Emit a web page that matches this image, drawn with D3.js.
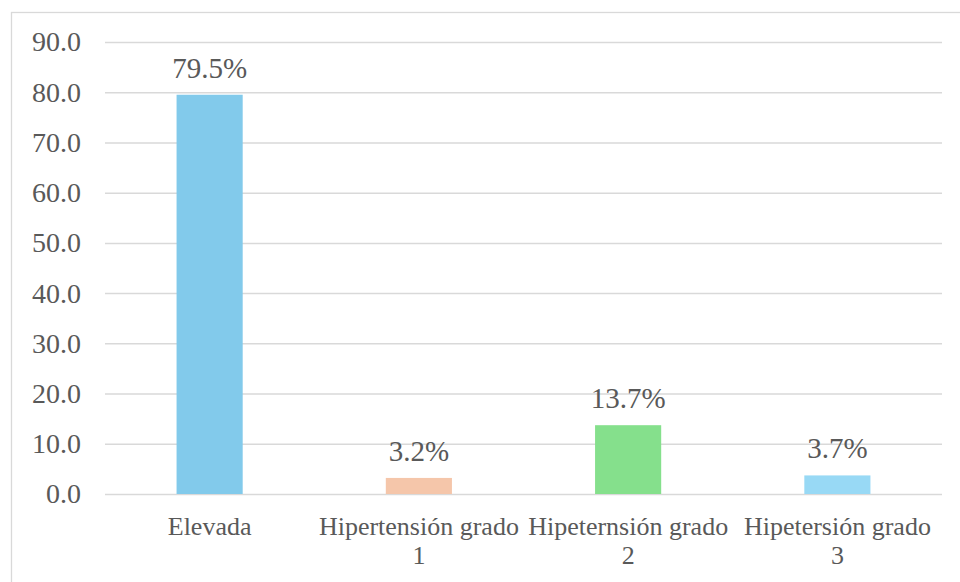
<!DOCTYPE html>
<html><head><meta charset="utf-8">
<script src="https://cdn.jsdelivr.net/npm/d3@7"></script>
<style>html,body{margin:0;padding:0;background:#fff;} svg text{font-family:"Liberation Serif","Times New Roman",serif !important;}</style>
</head><body>
<svg id="c" width="960" height="582"></svg>
<script>
const categories = ["Elevada", "Hipertensión grado 1", "Hipeternsión grado 2", "Hipetersión grado 3"];
const values = [79.5, 3.2, 13.7, 3.7];
const labels = ["79.5%", "3.2%", "13.7%", "3.7%"];
const colors = ["#82CAEB", "#F5C6AA", "#85E08C", "#98D9F5"];
const yTicks = [0, 10, 20, 30, 40, 50, 60, 70, 80, 90];

(function () {
const svg = d3.select("#c");
const textColor = "#595959";

svg.append("rect").attr("x", 11.5).attr("y", 12.5).attr("width", 960).attr("height", 600)
  .attr("fill", "#fff").attr("stroke", "#d9d9d9").attr("stroke-width", 1.3);

const pl = 105, pr = 942, pt = 42, pb = 494;
const x = d3.scaleBand().domain(categories).range([pl, pr]).paddingInner(0.684).paddingOuter(0.342);
const y = d3.scaleLinear().domain([0, 90]).range([pb, pt]);

const yAxis = d3.axisLeft(y).tickValues(yTicks).tickFormat(d3.format(".1f")).tickSize(0).tickPadding(24);
const gy = svg.append("g").attr("transform", `translate(${pl},0)`).call(yAxis);
gy.attr("font-family", null).attr("font-size", null);
gy.select(".domain").remove();
gy.selectAll(".tick line").attr("stroke", "#d9d9d9").attr("stroke-width", 1.5).attr("x1", 0).attr("x2", pr - pl);
gy.selectAll(".tick text").style("font-size", "28px").attr("fill", textColor).attr("x", -24);

svg.selectAll("rect.bar").data(values).join("rect").attr("class", "bar")
  .attr("x", (d, i) => x(categories[i])).attr("width", x.bandwidth())
  .attr("y", d => y(d)).attr("height", d => y(0) - y(d))
  .attr("fill", (d, i) => colors[i]);

svg.selectAll("text.lbl").data(values).join("text").attr("class", "lbl")
  .attr("x", (d, i) => x(categories[i]) + x.bandwidth() / 2)
  .attr("y", d => y(d) - 17)
  .attr("text-anchor", "middle").style("font-size", "29px").attr("fill", textColor)
  .text((d, i) => labels[i]);

const cat = svg.selectAll("text.cat").data(categories).join("text").attr("class", "cat")
  .attr("text-anchor", "middle").style("font-size", "26px").attr("fill", textColor)
  .attr("transform", d => `translate(${x(d) + x.bandwidth() / 2},535)`);
cat.each(function(d) {
  const t = d3.select(this);
  const words = d.split(" ");
  const lines = words.length > 2 ? [words.slice(0, -1).join(" "), words[words.length - 1]] : [d];
  lines.forEach((l, i) => t.append("tspan").attr("x", 0).attr("y", i * 29).text(l));
});
})();
</script>
</body></html>
